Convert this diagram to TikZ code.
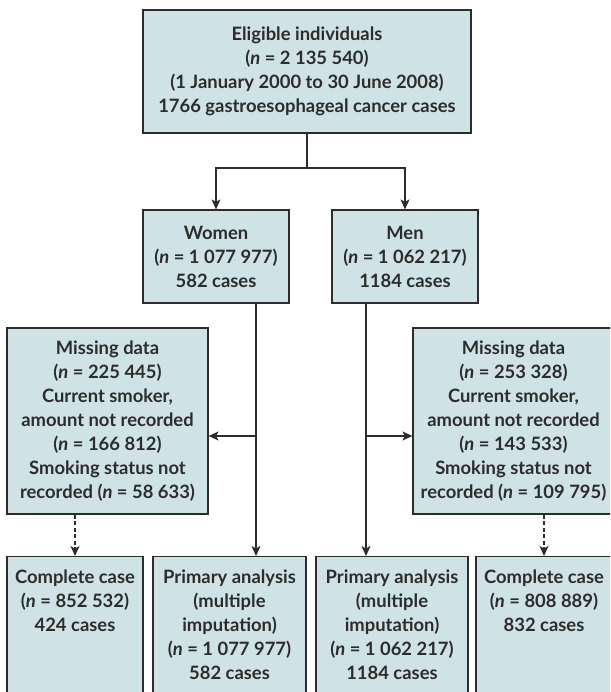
\documentclass[tikz,border=0pt]{standalone}
\usepackage{fontspec}
\setmainfont{Lato}
\usetikzlibrary{arrows.meta}

\definecolor{boxfill}{HTML}{CFE3E7}
\definecolor{inkgray}{HTML}{2C2C2C}
\newcommand{\nn}{\textit{n}}

\begin{document}
\begin{tikzpicture}[x = 1pt, y = -1pt,
    box/.style = {draw = inkgray, fill = boxfill, line width = 1.2pt,
      inner sep = 0pt, align = center, text = inkgray,
      font = \bfseries\fontsize{18.4}{24}\selectfont},
    boxtext/.style = {inner sep = 0pt, align = center, text = inkgray,
      font = \bfseries\fontsize{18.4}{24}\selectfont},
    link/.style = {draw = inkgray, line width = 1.2pt,
      -{Stealth[length = 10pt, width = 9pt, inset = 2.5pt]}}]
  \useasboundingbox (0, 0) rectangle (610, 692);
  \clip (0, 0) rectangle (610, 692);

  % top box
  \node[box, minimum width = 328, minimum height = 123] (eligible) at (307, 71.5)
    {Eligible individuals\\(\nn{} = 2 135 540)\\(1 January 2000 to 30 June 2008)\\1766 gastroesophageal cancer cases};

  % women and men
  \node[box, minimum width = 146, minimum height = 93] (women) at (216, 256.5)
    {Women\\(\nn{} = 1 077 977)\\582 cases};
  \node[box, minimum width = 146, minimum height = 93] (men) at (405, 256.5)
    {Men\\(\nn{} = 1 062 217)\\1184 cases};

  % missing data
  \node[box, minimum width = 201, minimum height = 186] (missL) at (107.5, 421)
    {Missing data\\(\nn{} = 225 445)\\Current smoker,\\amount not recorded\\(\nn{} = 166 812)\\Smoking status not\\recorded (\nn{} = 58 633)};
  \node[box, minimum width = 201, minimum height = 186] (missR) at (513.5, 421)
    {Missing data\\(\nn{} = 253 328)\\Current smoker,\\amount not recorded\\(\nn{} = 143 533)\\Smoking status not\\recorded (\nn{} = 109 795)};

  % bottom boxes (run past the lower edge)
  \node[box, anchor = north, minimum width = 136, minimum height = 150] (ccL) at (75, 556) {};
  \node[box, anchor = north, minimum width = 153, minimum height = 150] (paL) at (229.5, 556) {};
  \node[box, anchor = north, minimum width = 152, minimum height = 150] (paR) at (392, 556) {};
  \node[box, anchor = north, minimum width = 136, minimum height = 150] (ccR) at (544, 556) {};

  \node[boxtext, anchor = north] (ccLtext) at (75, 570)
    {Complete case\\(\nn{} = 852 532)\\424 cases};
  \node[boxtext, anchor = north] (paLtext) at (229.5, 570)
    {Primary analysis\\(multiple\\imputation)\\(\nn{} = 1 077 977)\\582 cases};
  \node[boxtext, anchor = north] (paRtext) at (392, 570)
    {Primary analysis\\(multiple\\imputation)\\(\nn{} = 1 062 217)\\1184 cases};
  \node[boxtext, anchor = north] (ccRtext) at (544, 570)
    {Complete case\\(\nn{} = 808 889)\\832 cases};

  % split below the top box
  \coordinate (split) at (307, 168);
  \draw[draw = inkgray, line width = 1.2pt] (eligible.south) -- (split);
  \draw[link] (split) -| (women.north);
  \draw[link] (split) -| (men.north);

  % women and men down to the analyses
  \coordinate (wdown) at (256, 303);
  \coordinate (mdown) at (366, 303);
  \draw[link] (wdown) -- (wdown |- paL.north);
  \draw[link] (mdown) -- (mdown |- paR.north);
  \draw[link] (wdown |- 0, 436) -- (missL.east |- 0, 436);
  \draw[link] (mdown |- 0, 436) -- (missR.west |- 0, 436);

  % complete case
  \draw[link, dash pattern = on 4pt off 2.5pt] (missL.south -| ccL.north) -- (ccL.north);
  \draw[link, dash pattern = on 4pt off 2.5pt] (missR.south -| ccR.north) -- (ccR.north);
\end{tikzpicture}
\end{document}
